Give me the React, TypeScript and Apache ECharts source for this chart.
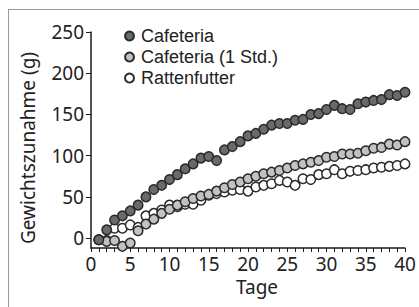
import React, { useEffect, useRef } from "react";
import * as echarts from "echarts";

const days = [1, 2, 3, 4, 5, 6, 7, 8, 9, 10, 11, 12, 13, 14, 15, 16, 17, 18, 19, 20, 21, 22, 23, 24, 25, 26, 27, 28, 29, 30, 31, 32, 33, 34, 35, 36, 37, 38, 39, 40];
const cafeteria = [-2, 10, 22, 27, 33, 40, 50, 59, 64, 71, 77, 84, 90, 97, 99, 94, 107, 111, 117, 124, 127, 132, 137, 139, 139, 143, 144, 150, 151, 156, 161, 157, 156, 163, 165, 167, 168, 174, 173, 177];
const cafeteria1 = [-2, -4, -3, -10, -6, 9, 17, 23, 30, 35, 40, 44, 48, 51, 53, 57, 61, 65, 68, 72, 75, 78, 80, 82, 85, 88, 90, 92, 94, 98, 99, 102, 102, 103, 106, 109, 110, 114, 113, 117];
const rattenfutter = [-2, -3, 12, 12, 16, 13, 27, 30, 34, 40, 38, 41, 41, 46, 52, 54, 56, 58, 59, 57, 62, 64, 66, 70, 68, 64, 72, 71, 77, 78, 83, 78, 81, 82, 83, 85, 86, 87, 88, 90];
const seriesNames = ["Cafeteria", "Cafeteria (1 Std.)", "Rattenfutter"];
const xTicks = [0, 1, 2, 3, 4, 5, 6, 7, 8, 9, 10, 11, 12, 13, 14, 15, 16, 17, 18, 19, 20, 21, 22, 23, 24, 25, 26, 27, 28, 29, 30, 31, 32, 33, 34, 35, 36, 37, 38, 39, 40];
const xLabels = [0, 5, 10, 15, 20, 25, 30, 35, 40];
const yLabels = [0, 50, 100, 150, 200, 250];
const xName = "Tage";
const yName = "Gewichtszunahme (g)";

const FONT = "'Noto Sans', sans-serif";
const LFONT = "'Liberation Sans', Arial, sans-serif";
const TXT = "#222";
const EDGE = "#2a2a2a";

export default function App() {
  const ref = useRef<HTMLDivElement>(null);
  useEffect(() => {
    if (!ref.current) return;
    const chart = echarts.init(ref.current, null, { renderer: "svg" });
    const mk = (name: string, vals: number[], fill: string, z: number) => ({
      name,
      type: "scatter",
      data: days.map((d, i) => [d, vals[i]]),
      symbol: "circle",
      symbolSize: 9.5,
      z,
      itemStyle: { color: fill, borderColor: EDGE, borderWidth: 1.5, opacity: 1 },
    });
    chart.setOption({
      animation: false,
      backgroundColor: "#fff",
      grid: { left: 91, right: 14, top: 32, bottom: 59, containLabel: false },
      legend: {
        orient: "vertical",
        left: 119,
        top: 22,
        itemWidth: 9,
        itemHeight: 9,
        itemGap: 3,
        icon: "circle",
        textStyle: { fontFamily: LFONT, fontSize: 18, color: TXT, lineHeight: 18, padding: [0, 0, 0, 2] },
        data: seriesNames,
      },
      xAxis: {
        type: "value",
        min: 0,
        max: 40,
        splitLine: { show: false },
        axisLine: { onZero: false, lineStyle: { color: "#1a1a1a", width: 1.5 } },
        axisTick: { customValues: xTicks, length: 4, lineStyle: { color: "#1a1a1a", width: 1 } },
        axisLabel: { customValues: xLabels, margin: 6, fontFamily: FONT, fontSize: 19, color: TXT },
      },
      yAxis: {
        type: "value",
        min: -12,
        max: 250,
        splitLine: { show: false },
        axisLine: { show: true, onZero: false, lineStyle: { color: "#1a1a1a", width: 1.5 } },
        axisTick: { show: true, customValues: yLabels, length: 5, lineStyle: { color: "#1a1a1a", width: 1 } },
        axisLabel: { customValues: yLabels, margin: 7, fontFamily: FONT, fontSize: 19, color: TXT },
      },
      graphic: [
        { type: "line", shape: { x1: 8, y1: 9.5, x2: 419, y2: 9.5 }, style: { stroke: "#9a9a9a", lineWidth: 1 } },
        { type: "line", shape: { x1: 8.5, y1: 9, x2: 8.5, y2: 307 }, style: { stroke: "#9a9a9a", lineWidth: 1 } },
        {
          type: "text", x: 28, y: 148, rotation: Math.PI / 2,
          style: { text: yName, fontFamily: FONT, fontSize: 19, fill: TXT, align: "center", verticalAlign: "middle" },
        },
        {
          type: "text", x: 257, y: 287,
          style: { text: xName, fontFamily: FONT, fontSize: 19, fill: TXT, align: "center", verticalAlign: "middle" },
        },
      ],
      series: [
        mk(seriesNames[2], rattenfutter, "#ffffff", 2),
        mk(seriesNames[1], cafeteria1, "#c2c2c2", 3),
        mk(seriesNames[0], cafeteria, "#6a6a6a", 4),
      ],
    });
    return () => chart.dispose();
  }, []);
  return <div ref={ref} style={{ position: "fixed", left: 0, top: 0, width: 419, height: 307 }} />;
}
